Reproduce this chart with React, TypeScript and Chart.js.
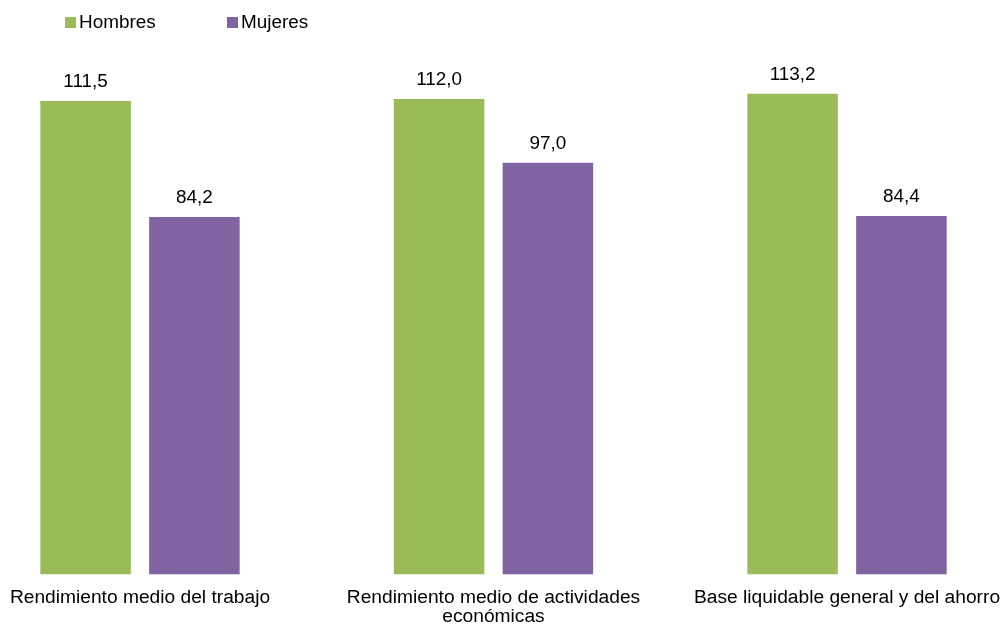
import React, { useEffect, useRef } from "react";
import { Chart, registerables } from "chart.js";

Chart.register(...registerables);

const categories: (string | string[])[] = [
  "Rendimiento medio del trabajo",
  ["Rendimiento medio de actividades", "económicas"],
  "Base liquidable general y del ahorro",
];
const seriesNames = ["Hombres", "Mujeres"];
const hombres = [111.5, 112.0, 113.2];
const mujeres = [84.2, 97.0, 84.4];
const colors = ["#9BBB59", "#8064A2"];

const FONT = '"Liberation Sans", Arial, sans-serif';
const FS = 18.9;
const TICK_FS = 19.2;

const fmt = (v: number) => v.toFixed(1).replace(".", ",");

const valueLabels = {
  id: "valueLabels",
  afterDatasetsDraw(chart: any) {
    const ctx = chart.ctx;
    ctx.save();
    ctx.font = `${FS}px ${FONT}`;
    ctx.fillStyle = "#000";
    ctx.textAlign = "center";
    ctx.textBaseline = "alphabetic";
    chart.data.datasets.forEach((ds: any, i: number) => {
      const meta = chart.getDatasetMeta(i);
      meta.data.forEach((bar: any, j: number) => {
        ctx.fillText(fmt(ds.data[j]), bar.x, bar.y - 14);
      });
    });
    ctx.restore();
  },
};

const topLegend = {
  id: "topLegend",
  afterDraw(chart: any) {
    const ctx = chart.ctx;
    const starts = [65, 227];
    ctx.save();
    ctx.font = `${FS}px ${FONT}`;
    ctx.textAlign = "left";
    ctx.textBaseline = "alphabetic";
    chart.data.datasets.forEach((ds: any, i: number) => {
      const x = starts[i];
      ctx.fillStyle = ds.backgroundColor;
      ctx.fillRect(x, 17, 11, 11);
      ctx.fillStyle = "#000";
      ctx.fillText(ds.label, x + 14, 28.3);
    });
    ctx.restore();
  },
};

export default function App() {
  const ref = useRef<HTMLCanvasElement>(null);
  useEffect(() => {
    if (!ref.current) return;
    const chart = new Chart(ref.current, {
      type: "bar",
      data: {
        labels: categories,
        datasets: [
          { label: seriesNames[0], data: hombres, backgroundColor: colors[0], clip: false },
          { label: seriesNames[1], data: mujeres, backgroundColor: colors[1], clip: false },
        ],
      },
      options: {
        animation: false,
        responsive: true,
        maintainAspectRatio: false,
        layout: { padding: { left: 140, right: 155, top: 65, bottom: -13 } },
        datasets: { bar: { categoryPercentage: 0.6156, barPercentage: 0.832 } },
        plugins: { legend: { display: false }, tooltip: { enabled: false } },
        scales: {
          x: {
            offset: false,
            grid: { display: false, drawTicks: false },
            border: { display: false },
            afterFit: (scale: any) => {
              scale.paddingLeft = 0;
              scale.paddingRight = 0;
            },
            ticks: {
              color: "#000",
              padding: 14,
              maxRotation: 0,
              autoSkip: false,
              font: { family: FONT, size: TICK_FS, lineHeight: 0.98 },
            },
          },
          y: { display: false, min: 0, max: 120 },
        },
      },
      plugins: [valueLabels, topLegend],
    });
    return () => chart.destroy();
  }, []);
  return (
    <div style={{ position: "fixed", left: 0, top: 0, width: 1002, height: 627, background: "#fff" }}>
      <canvas ref={ref} />
    </div>
  );
}
